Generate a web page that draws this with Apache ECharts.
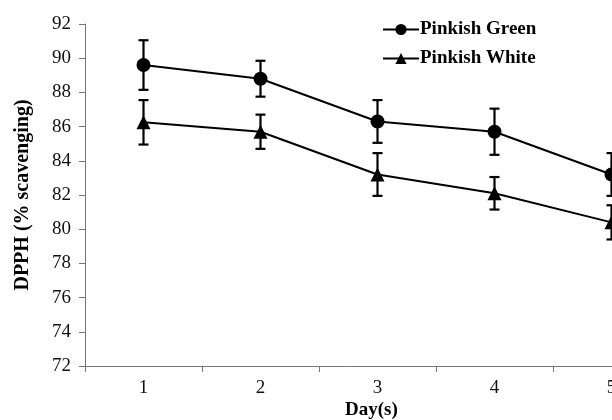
<!DOCTYPE html>
<html>
<head>
<meta charset="utf-8">
<script src="https://cdn.jsdelivr.net/npm/echarts@6/dist/echarts.min.js"></script>
<style>
  html, body { margin: 0; padding: 0; background: #fff; }
  #chart { width: 612px; height: 420px; }
</style>
</head>
<body>
<div id="chart"></div>
<script>
  const days = ['1', '2', '3', '4', '5']
  const greenVal = [89.6, 88.8, 86.3, 85.7, 83.2]
  const greenErr = [1.45, 1.05, 1.25, 1.35, 1.25]
  const whiteVal = [86.25, 85.7, 83.2, 82.1, 80.4]
  const whiteErr = [1.3, 1.0, 1.25, 0.95, 1.0]

  const font = 'Liberation Serif'

  function errData(vals, errs) {
    return vals.map((v, i) => [i, v - errs[i], v + errs[i]])
  }

  // error bar drawn with custom series
  function errorRender(params, api) {
    const x = api.value(0)
    const lo = api.coord([x, api.value(1)])
    const hi = api.coord([x, api.value(2)])
    const w = 5
    const style = { stroke: '#000', lineWidth: 2.2 }
    return {
      type: 'group',
      children: [
        { type: 'line', shape: { x1: hi[0], y1: hi[1], x2: lo[0], y2: lo[1] }, style: style },
        { type: 'line', shape: { x1: hi[0] - w, y1: hi[1], x2: hi[0] + w, y2: hi[1] }, style: style },
        { type: 'line', shape: { x1: lo[0] - w, y1: lo[1], x2: lo[0] + w, y2: lo[1] }, style: style }
      ]
    }
  }

  const chart = echarts.init(document.getElementById('chart'))
  const option = {
    animation: false,
    backgroundColor: '#fff',
    legend: {
      data: ['Pinkish Green', 'Pinkish White'],
      orient: 'vertical',
      left: 377,
      top: 15,
      itemWidth: 36,
      itemHeight: 14,
      itemGap: 10,
      textStyle: { fontFamily: font, fontWeight: 'bold', fontSize: 19, color: '#000', padding: [0, 0, 0, -4] }
    },
    grid: { left: 85, top: 24, width: 585, height: 342, outerBoundsMode: 'none' },
    xAxis: {
      type: 'category',
      data: days,
      boundaryGap: true,
      axisLine: { lineStyle: { color: '#777', width: 1 } },
      axisTick: { show: true, length: 6, lineStyle: { color: '#777' } },
      axisLabel: { fontFamily: font, fontSize: 19, color: '#111', margin: 13 },
      splitLine: { show: false }
    },
    yAxis: {
      type: 'value',
      min: 72,
      max: 92,
      interval: 2,
      name: 'DPPH (% scavenging)',
      nameLocation: 'middle',
      nameGap: 52,
      nameRotate: 90,
      nameTextStyle: { fontFamily: font, fontWeight: 'bold', fontSize: 20, color: '#000' },
      axisLine: { show: true, lineStyle: { color: '#777', width: 1 } },
      axisTick: { show: true, length: 6, lineStyle: { color: '#777' } },
      axisLabel: { fontFamily: font, fontSize: 19, color: '#111', margin: 14 },
      splitLine: { show: false }
    },
    graphic: [
      {
        type: 'text',
        left: 345,
        top: 401,
        style: { text: 'Day(s)', fontFamily: font, fontWeight: 'bold', fontSize: 19, fill: '#000' }
      }
    ],
    series: [
      {
        name: 'Pinkish Green',
        type: 'line',
        data: greenVal,
        symbol: 'circle',
        symbolSize: 14,
        itemStyle: { color: '#000' },
        lineStyle: { color: '#000', width: 2 },
        z: 3
      },
      {
        name: 'Pinkish White',
        type: 'line',
        data: whiteVal,
        symbol: 'triangle',
        symbolSize: 14,
        itemStyle: { color: '#000' },
        lineStyle: { color: '#000', width: 2 },
        z: 3
      },
      {
        type: 'custom',
        renderItem: errorRender,
        data: errData(greenVal, greenErr),
        encode: { x: 0, y: [1, 2] },
        z: 2
      },
      {
        type: 'custom',
        renderItem: errorRender,
        data: errData(whiteVal, whiteErr),
        encode: { x: 0, y: [1, 2] },
        z: 2
      }
    ]
  }
  chart.setOption(option)
  window.addEventListener('resize', function() {
    chart.resize()
  })
</script>
</body>
</html>
